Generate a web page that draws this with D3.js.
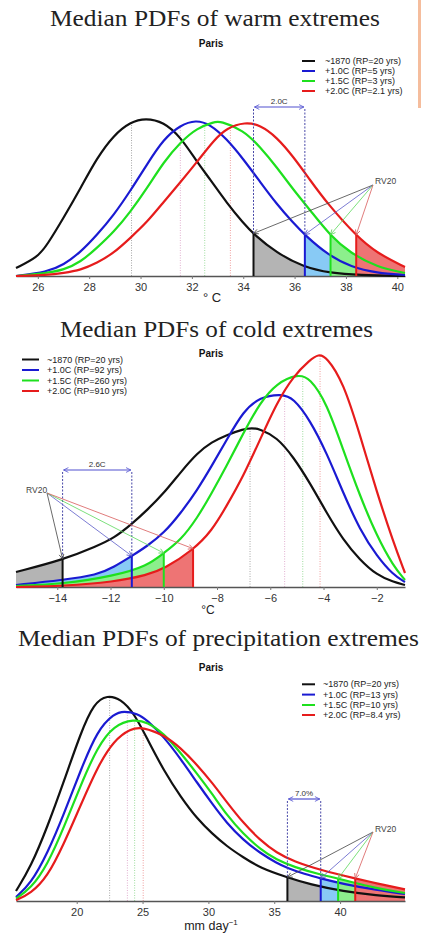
<!DOCTYPE html>
<html>
<head>
<meta charset="utf-8">
<script src="https://cdn.jsdelivr.net/npm/d3@7"></script>
<style>
  body { margin: 0; background: #fff; }
  svg { display: block; font-family: "Liberation Sans", Arial, sans-serif; }
</style>
</head>
<body>
<svg id="chart" width="421" height="934"></svg>
<script>
// ---- warm extremes (deg C, relative density) ----
var warm1870 = [[25.15,.008],[26.0,.019],[26.36,.031],[27.0,.058],[27.67,.088],[28.3,.118],[28.96,.141],[29.6,.154],[30.2,.158],[30.9,.154],[31.56,.139],[32.2,.114],[32.7,.097],[33.36,.073],[34.0,.053],[34.4,.042],[35.3,.023],[36.35,.009],[37.4,.003],[38.5,.001],[40.3,0]];
var warm10 = [[25.15,0],[26.36,.004],[27.0,.011],[27.67,.024],[28.3,.041],[28.96,.061],[29.6,.085],[30.26,.112],[30.9,.137],[31.56,.151],[32.15,.156],[32.7,.152],[33.36,.137],[34.0,.117],[34.66,.094],[35.3,.072],[35.95,.053],[36.4,.041],[37.3,.021],[38.2,.009],[39.2,.003],[40.3,.001]];
var warm15 = [[25.15,0],[26.36,.003],[27.0,.006],[27.67,.014],[28.3,.028],[28.96,.044],[29.6,.064],[30.26,.088],[30.9,.114],[31.56,.134],[32.2,.148],[32.86,.154],[33.1,.155],[34.0,.146],[34.66,.129],[35.3,.109],[35.96,.086],[36.6,.066],[37.4,.040],[38.17,.023],[39.2,.009],[40.3,.003]];
var warm20 = [[25.15,0],[26.36,.001],[27.0,.003],[27.67,.006],[28.3,.013],[28.96,.023],[29.6,.038],[30.26,.054],[30.9,.074],[31.56,.094],[32.2,.114],[32.86,.136],[33.36,.148],[34.07,.154],[34.66,.151],[35.3,.139],[35.96,.119],[36.6,.096],[37.26,.073],[38.4,.040],[39.2,.023],[40.3,.009]];
var warmRV = [34.4, 36.4, 37.4, 38.4];
var warmMed = [29.65, 31.55, 32.5, 33.5];
var warmTicks = [26, 28, 30, 32, 34, 36, 38, 40];
var warmLabels = ["~1870 (RP=20 yrs)", "+1.0C (RP=5 yrs)", "+1.5C (RP=3 yrs)", "+2.0C (RP=2.1 yrs)"];

// ---- cold extremes ----
var cold1870 = [[-15.55,.015],[-13.8,.027],[-12.5,.041],[-11.87,.049],[-11.24,.062],[-10.62,.077],[-9.99,.094],[-9.36,.115],[-8.74,.134],[-8.2,.145],[-7.64,.152],[-7.01,.158],[-6.7,.159],[-6.39,.158],[-5.76,.150],[-5.13,.130],[-4.51,.104],[-3.88,.074],[-3.26,.047],[-2.63,.027],[-2.0,.012],[-1.38,.005],[-0.94,.002]];
var cold10 = [[-15.55,.002],[-13.8,.007],[-12.5,.012],[-11.87,.020],[-11.2,.031],[-10.62,.041],[-9.99,.054],[-9.36,.074],[-8.74,.097],[-8.2,.121],[-7.64,.147],[-7.01,.176],[-6.39,.190],[-5.57,.193],[-5.13,.189],[-4.51,.167],[-3.88,.134],[-3.26,.094],[-2.63,.057],[-2.0,.031],[-1.38,.012],[-0.94,.005]];
var cold15 = [[-15.55,.001],[-13.8,.003],[-11.87,.011],[-10.62,.021],[-10.0,.034],[-9.36,.047],[-8.74,.069],[-8.2,.094],[-7.64,.121],[-7.01,.154],[-6.39,.184],[-5.76,.204],[-4.95,.213],[-4.51,.209],[-3.88,.184],[-3.26,.137],[-2.63,.091],[-2.0,.051],[-1.38,.021],[-0.94,.007]];
var cold20 = [[-15.55,0],[-13.8,.001],[-11.87,.005],[-10.62,.012],[-9.99,.018],[-8.9,.037],[-8.2,.056],[-7.64,.081],[-7.01,.111],[-6.39,.147],[-5.76,.184],[-5.13,.211],[-4.51,.227],[-4.19,.233],[-3.88,.230],[-3.26,.205],[-2.63,.152],[-2.0,.095],[-1.38,.045],[-0.94,.014]];
var coldRV = [-13.8, -11.2, -10.0, -8.9];
var coldMed = [-6.76, -5.46, -4.78, -4.13];
var coldTicks = [-14, -12, -10, -8, -6, -4, -2];
var coldLabels = ["~1870 (RP=20 yrs)", "+1.0C (RP=92 yrs)", "+1.5C (RP=260 yrs)", "+2.0C (RP=910 yrs)"];

// ---- precipitation extremes (mm/day) ----
var prec1870 = [[15.39,.005],[16.51,.017],[17.77,.037],[19.04,.060],[20.3,.084],[21.31,.099],[22.32,.103],[23.34,.101],[24.35,.094],[25.36,.081],[26.63,.065],[27.9,.052],[29.16,.041],[30.3,.0336],[31.39,.0274],[32.65,.0218],[33.92,.0166],[36.0,.0118],[37.71,.0083],[40.24,.0048],[42.78,.0028],[44.93,.0018]];
var prec10 = [[15.39,.002],[16.51,.0087],[17.77,.0237],[19.04,.0437],[20.3,.0654],[21.57,.0854],[22.83,.0937],[23.59,.095],[24.6,.0937],[25.36,.0904],[26.63,.082],[27.9,.071],[29.16,.059],[30.3,.0485],[31.39,.039],[32.65,.0305],[33.92,.024],[35.19,.019],[36.0,.0165],[37.3,.0135],[38.53,.0113],[40.24,.0085],[42.78,.0055],[44.93,.0035]];
var prec15 = [[15.39,.0012],[16.51,.0062],[17.77,.0179],[19.04,.037],[20.3,.0579],[21.57,.077],[22.83,.0879],[24.35,.0909],[25.36,.0895],[26.63,.0837],[27.9,.074],[29.16,.0635],[30.3,.0535],[31.39,.043],[32.65,.0335],[33.92,.026],[35.19,.0205],[36.5,.017],[38.5,.0132],[39.85,.0113],[42.78,.0062],[44.93,.004]];
var prec20 = [[15.39,.0004],[16.51,.0037],[17.77,.012],[19.04,.0287],[20.3,.0479],[21.57,.067],[22.83,.0804],[24.1,.0862],[24.98,.087],[26.63,.083],[27.9,.0765],[29.16,.068],[30.3,.059],[31.39,.0495],[32.65,.039],[33.92,.0305],[35.19,.024],[36.5,.0198],[38.5,.0155],[41.15,.0113],[42.78,.0088],[44.93,.0058]];
var precRV = [36.0, 38.53, 39.85, 41.15];
var precMed = [22.5, 23.85, 24.4, 25.05];
var precTicks = [20, 25, 30, 35, 40];
var precLabels = ["~1870 (RP=20 yrs)", "+1.0C (RP=13 yrs)", "+1.5C (RP=10 yrs)", "+2.0C (RP=8.4 yrs)"];

var colors = ["#111111", "#1a1ad2", "#1ee01e", "#e61c1c"];
var fills = ["#b4b4b4", "#88caf5", "#8cef8c", "#ee7474"];
var arrowCols = ["#444444", "#5a5ac8", "#5ad85a", "#d85a5a"];
var medCols = ["rgba(0,0,0,0.35)", "rgba(190,80,150,0.45)", "rgba(40,180,40,0.45)", "rgba(220,40,40,0.45)"];

var panels = [
  { title: "Median PDFs of warm extremes", titleX: 50, titleW: 330, titleY: 26, parisY: 46.5,
    base: 276, ymax: 0.2, ypix: 200, domain: [25.15, 40.3], ticks: warmTicks,
    series: [warm1870, warm10, warm15, warm20], rv: warmRV, med: warmMed, tail: "right",
    legX: 302, legLen: 13, legTextX: 325, legY: [61, 71, 81, 91], labels: warmLabels,
    gapLabel: "2.0C", gapY: 107, rvText: [375, 184.5], rvFrom: [373, 185],
    unit: "° C", unitX: 212, unitY: 302, unitSize: 13 },
  { title: "Median PDFs of cold extremes", titleX: 60, titleW: 313, titleY: 337, parisY: 356.5,
    base: 587, ymax: 0.25, ypix: 250, domain: [-15.55, -0.94], ticks: coldTicks,
    series: [cold1870, cold10, cold15, cold20], rv: coldRV, med: coldMed, tail: "left",
    legX: 22, legLen: 17, legTextX: 47, legY: [359.5, 370, 380.5, 391], labels: coldLabels,
    gapLabel: "2.6C", gapY: 470, rvText: [26, 493], rvFrom: [47, 493],
    unit: "°C", unitX: 208, unitY: 614, unitSize: 12 },
  { title: "Median PDFs of precipitation extremes", titleX: 18, titleW: 401, titleY: 646, parisY: 670.5,
    base: 901, ymax: 0.12, ypix: 240, domain: [15.39, 44.93], ticks: precTicks,
    series: [prec1870, prec10, prec15, prec20], rv: precRV, med: precMed, tail: "right",
    legX: 302, legLen: 13, legTextX: 323, legY: [684.3, 694.6, 705, 715], labels: precLabels,
    gapLabel: "7.0%", gapY: 799, rvText: [375, 832], rvFrom: [373, 832],
    unit: "mm day", unitSup: "\u22121", unitX: 211, unitY: 930, unitSize: 12.5 }
];

var svg = d3.select("#chart");
var defs = svg.append("defs");

function addMarker(id, col) {
  defs.append("marker")
    .attr("id", id)
    .attr("viewBox", "0 0 10 10")
    .attr("refX", 9).attr("refY", 5)
    .attr("markerWidth", 6).attr("markerHeight", 6)
    .attr("markerUnits", "userSpaceOnUse")
    .attr("orient", "auto-start-reverse")
    .append("path")
    .attr("d", "M1,1 L9,5 L1,9")
    .attr("fill", "none")
    .attr("stroke", col)
    .attr("stroke-width", 1.3);
}
arrowCols.forEach(function(c, i) { addMarker("arr" + i, c); });
addMarker("arrGap", "#5050d0");

// y of a drawn curve at screen x (curves run left to right)
function yOnPath(node, px) {
  var lo = 0, hi = node.getTotalLength();
  for (var k = 0; k < 40; k++) {
    var mid = (lo + hi) / 2;
    if (node.getPointAtLength(mid).x < px) lo = mid; else hi = mid;
  }
  return node.getPointAtLength((lo + hi) / 2).y;
}

function drawPanel(p, idx) {
  var x = d3.scaleLinear().domain(p.domain).range([16, 405]);
  var y = d3.scaleLinear().domain([0, p.ymax]).range([p.base, p.base - p.ypix]);
  var g = svg.append("g");

  g.append("text")
    .attr("x", p.titleX).attr("y", p.titleY)
    .attr("textLength", p.titleW).attr("lengthAdjust", "spacingAndGlyphs")
    .style("font-family", "'Liberation Serif', 'DejaVu Serif', serif")
    .style("font-size", "23px")
    .attr("fill", "#222")
    .text(p.title);

  g.append("text")
    .attr("x", 211).attr("y", p.parisY)
    .attr("text-anchor", "middle")
    .style("font-weight", "bold").style("font-size", "10px")
    .attr("fill", "#111")
    .text("Paris");

  var fillG = g.append("g");
  var medG = g.append("g");
  var axisG = g.append("g");
  var lineG = g.append("g");
  var annG = g.append("g");

  var line = d3.line().x(function(d) { return x(d[0]); }).y(function(d) { return y(d[1]); }).curve(d3.curveBasis);
  var area = d3.area().x(function(d) { return x(d[0]); }).y0(p.base).y1(function(d) { return y(d[1]); }).curve(d3.curveBasis);

  // curves
  var nodes = p.series.map(function(s, i) {
    return lineG.append("path").datum(s)
      .attr("d", line)
      .attr("fill", "none")
      .attr("stroke", colors[i])
      .attr("stroke-width", 2.2)
      .node();
  });
  var rvY = p.rv.map(function(v, i) { return yOnPath(nodes[i], x(v)); });

  // shaded tails beyond RV20
  p.series.forEach(function(s, i) {
    var cid = "clip" + idx + "_" + i;
    var xr = x(p.rv[i]);
    var cx = p.tail === "right" ? xr : 16;
    var cw = p.tail === "right" ? 405 - xr : xr - 16;
    defs.append("clipPath").attr("id", cid)
      .append("rect").attr("x", cx).attr("y", 0).attr("width", cw).attr("height", 934);
    fillG.append("path").datum(s)
      .attr("d", area)
      .attr("fill", fills[i])
      .attr("clip-path", "url(#" + cid + ")");
  });

  // dotted medians
  p.med.forEach(function(m, i) {
    medG.append("line")
      .attr("x1", x(m)).attr("x2", x(m))
      .attr("y1", p.base).attr("y2", yOnPath(nodes[i], x(m)))
      .attr("stroke", medCols[i]).attr("stroke-width", 1)
      .attr("stroke-dasharray", "1,1.5");
  });

  var axis = axisG.append("g")
    .attr("transform", "translate(0," + p.base + ")")
    .call(d3.axisBottom(x).tickValues(p.ticks).tickSize(3).tickSizeOuter(0).tickPadding(4).tickFormat(d3.format("d")));
  axis.attr("font-family", "'Liberation Sans', Arial, sans-serif").attr("font-size", 11);
  axis.select(".domain").attr("stroke", "#555").attr("stroke-width", 1.6);
  axis.selectAll(".tick line").attr("stroke", "#777");
  axis.selectAll(".tick text").attr("fill", "#333");

  // RV20 verticals
  p.rv.forEach(function(v, i) {
    var xv = x(v);
    annG.append("line")
      .attr("x1", xv).attr("x2", xv)
      .attr("y1", p.base).attr("y2", rvY[i])
      .attr("stroke", colors[i]).attr("stroke-width", 2);
  });

  // shift between ~1870 and +1.0C
  var x0 = x(p.rv[0]), x1 = x(p.rv[1]);
  [0, 1].forEach(function(i) {
    var xv = x(p.rv[i]);
    annG.append("line")
      .attr("x1", xv).attr("x2", xv)
      .attr("y1", p.gapY + 2).attr("y2", rvY[i])
      .attr("stroke", "#4848a8").attr("stroke-width", 1)
      .attr("stroke-dasharray", "2,1.5");
  });
  annG.append("line")
    .attr("x1", x0 + 1).attr("x2", x1 - 1)
    .attr("y1", p.gapY).attr("y2", p.gapY)
    .attr("stroke", "#5050d0").attr("stroke-width", 1.2)
    .attr("marker-start", "url(#arrGap)").attr("marker-end", "url(#arrGap)");
  annG.append("text")
    .attr("x", (x0 + x1) / 2).attr("y", p.gapY - 3.5)
    .attr("text-anchor", "middle")
    .style("font-size", "8px").attr("fill", "#333")
    .text(p.gapLabel);

  // RV20 pointers
  p.rv.forEach(function(v, i) {
    annG.append("line")
      .attr("x1", p.rvFrom[0]).attr("y1", p.rvFrom[1])
      .attr("x2", x(v)).attr("y2", rvY[i])
      .attr("stroke", arrowCols[i]).attr("stroke-width", 0.8)
      .attr("marker-end", "url(#arr" + i + ")");
  });
  annG.append("text")
    .attr("x", p.rvText[0]).attr("y", p.rvText[1] - 0.5)
    .style("font-size", "8.5px").attr("fill", "#444")
    .text("RV20");

  // legend
  p.labels.forEach(function(lab, i) {
    annG.append("line")
      .attr("x1", p.legX).attr("x2", p.legX + p.legLen)
      .attr("y1", p.legY[i]).attr("y2", p.legY[i])
      .attr("stroke", colors[i]).attr("stroke-width", 2);
    annG.append("text")
      .attr("x", p.legTextX).attr("y", p.legY[i])
      .attr("dy", "0.35em")
      .style("font-size", "9px").attr("fill", "#222")
      .text(lab);
  });

  var u = annG.append("text")
    .attr("x", p.unitX).attr("y", p.unitY)
    .attr("text-anchor", "middle")
    .style("font-size", p.unitSize + "px").attr("fill", "#222")
    .text(p.unit);
  if (p.unitSup) {
    u.append("tspan").attr("dy", -5).style("font-size", "8px").text(p.unitSup);
  }
}

panels.forEach(drawPanel);

// slide edge strip top right
svg.append("rect").attr("x", 418).attr("y", 0).attr("width", 3).attr("height", 108).attr("fill", "#f5bd9d");
</script>
</body>
</html>
